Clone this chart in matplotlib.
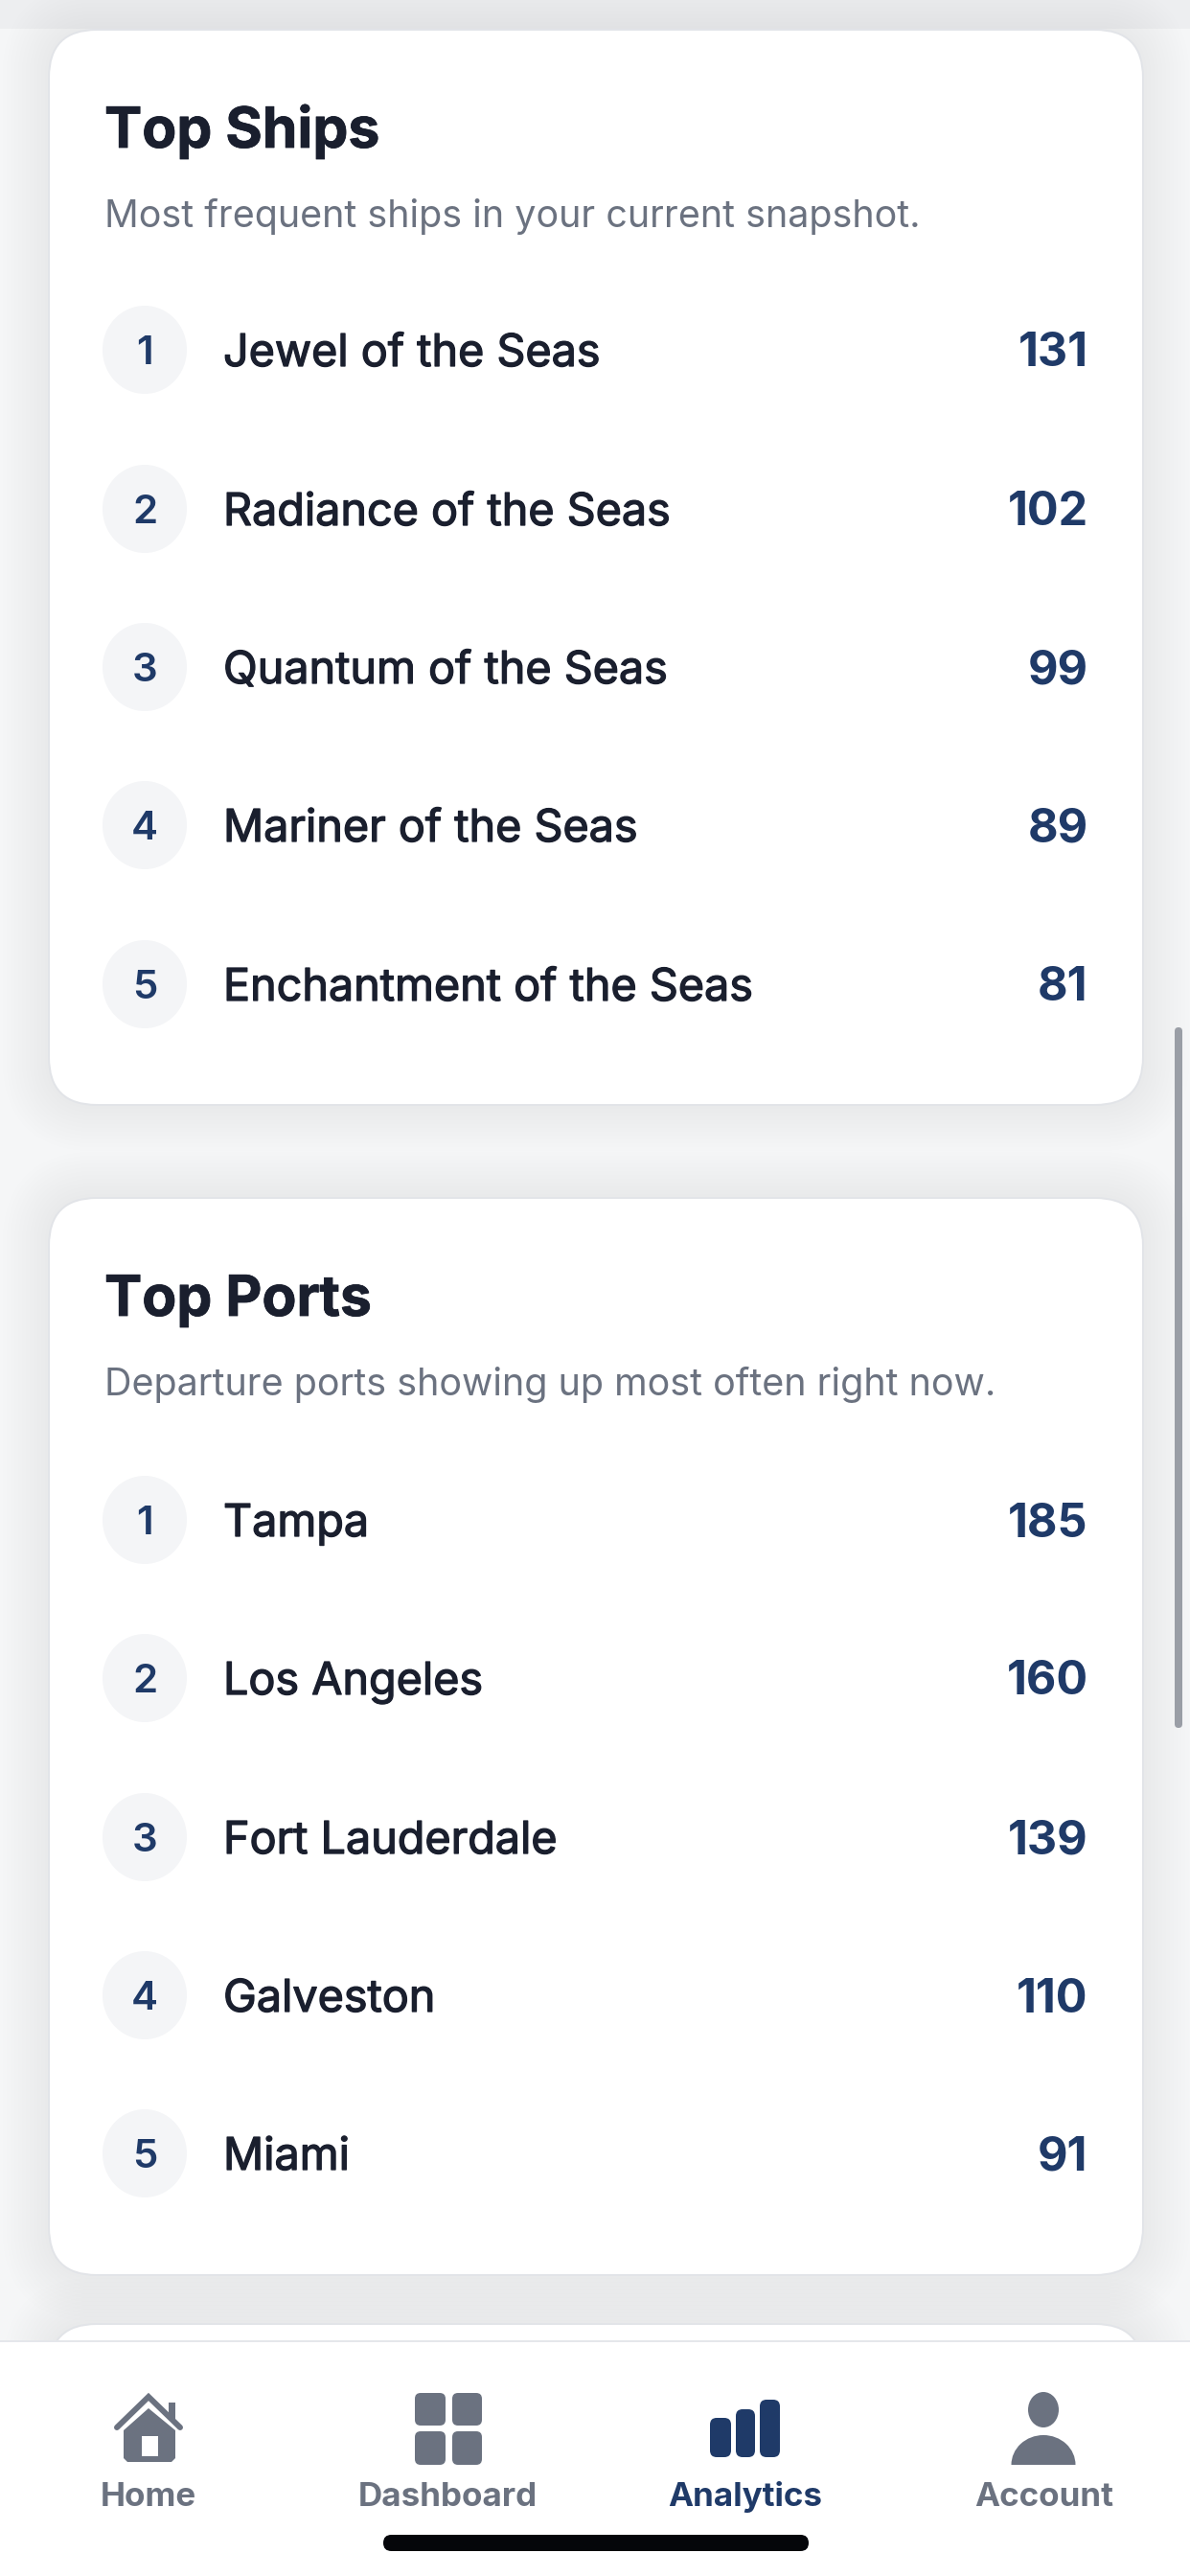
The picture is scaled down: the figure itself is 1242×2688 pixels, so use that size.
import matplotlib
matplotlib.use("Agg")
import matplotlib.pyplot as plt
import matplotlib.patheffects as pe
from matplotlib.patches import FancyBboxPatch, Ellipse, Rectangle, Polygon, Wedge
from matplotlib.transforms import Affine2D

plt.rcParams['font.family'] = ['Inter', 'DejaVu Sans']

ship_names = ["Jewel of the Seas", "Radiance of the Seas", "Quantum of the Seas",
              "Mariner of the Seas", "Enchantment of the Seas"]
ship_counts = [131, 102, 99, 89, 81]
port_names = ["Tampa", "Los Angeles", "Fort Lauderdale", "Galveston", "Miami"]
port_counts = [185, 160, 139, 110, 91]
nav_labels = ["Home", "Dashboard", "Analytics", "Account"]

W, H = 1242, 2688
DPI = 100
px = 72 / DPI
fig = plt.figure(figsize=(W / DPI, H / DPI), dpi=DPI, facecolor="#f5f6f7")
ax = fig.add_axes([0, 0, 1, 1])
ax.set_xlim(0, W)
ax.set_ylim(H, 0)
ax.axis("off")

INK = "#1a1f2e"
GREY = "#6b7280"
NAVY = "#1f3a68"


def rrect(x0, y0, x1, y1, r, **kw):
    p = FancyBboxPatch((x0 + r, y0 + r), x1 - x0 - 2 * r, y1 - y0 - 2 * r,
                       boxstyle=f"round,pad={r},rounding_size={r}", **kw)
    ax.add_patch(p)
    return p


def halo(x0, y0, x1, y1):
    for g in range(48, 0, -4):
        rrect(x0 - g, y0 - g, x1 + g, y1 + g, 50 + g,
              fc="#d4d7dc", ec="none", alpha=0.022, zorder=1)


def card(y0, y1, title, sub, names, counts, row_ys):
    x0, x1 = 51, 1193
    halo(x0, y0, x1, y1)
    rrect(x0, y0, x1, y1, 50, fc="white", ec="#e2e4e8", lw=2 * px, zorder=2)
    ax.text(109, y0 + 123, title, fontsize=58.8 * px, fontweight="bold", color=INK,
            va="baseline", ha="left", zorder=3,
            path_effects=[pe.withStroke(linewidth=0.8 * px, foreground=INK)])
    ax.text(109, y0 + 206, sub, fontsize=39.5 * px, color=GREY,
            va="baseline", ha="left", zorder=3)
    for i, (y, n, c) in enumerate(zip(row_ys, names, counts)):
        ax.add_patch(Ellipse((151, y), 88, 92, fc="#f4f5f7", ec="none", zorder=3))
        ax.text(151, y + 15, str(i + 1), fontsize=42 * px, fontweight="semibold",
                color=NAVY, ha="center", va="baseline", zorder=4)
        ax.text(233, y + 17, n, fontsize=46.7 * px, color=INK, ha="left", va="baseline", zorder=4,
                path_effects=[pe.withStroke(linewidth=1.3 * px, foreground=INK)])
        ax.text(1135.5, y + 17.5, str(c), fontsize=48.5 * px, fontweight="bold", color=NAVY,
                ha="right", va="baseline", zorder=4)


ax.add_patch(Rectangle((0, 0), W, 30, fc="#e6e8eb", ec="none", alpha=0.5, zorder=0))

card(31, 1153, "Top Ships", "Most frequent ships in your current snapshot.",
     ship_names, ship_counts, [365, 531, 696, 861, 1027])
card(1250, 2374, "Top Ports", "Departure ports showing up most often right now.",
     port_names, port_counts, [1586, 1751, 1917, 2082, 2247])

# next card, cut off by the tab bar
halo(51, 2425, 1193, 2700)
rrect(51, 2425, 1193, 2700, 50, fc="white", ec="#e2e4e8", lw=2 * px, zorder=2)

# scrollbar
rrect(1226, 1072, 1234, 1803, 4, fc="#9a9ea6", ec="none", zorder=5)

# tab bar
ax.add_patch(Rectangle((0, 2443), W, H - 2443, fc="white", ec="none", zorder=6))
ax.plot([0, W], [2443, 2443], color="#e5e7eb", lw=2 * px, zorder=7)

# home icon
ax.plot([122, 155, 188], [2533, 2501, 2533], color=GREY, lw=6 * px, zorder=7,
        solid_capstyle="round", solid_joinstyle="miter")
ax.add_patch(Rectangle((176, 2507), 7, 18, fc=GREY, ec="none", zorder=7))
ax.add_patch(Polygon([(129, 2536), (155, 2513), (183, 2536), (183, 2565), (179, 2569),
                      (133, 2569), (129, 2565)], fc=GREY, ec="none", zorder=7))
ax.add_patch(Rectangle((148, 2542), 17, 21, fc="white", ec="none", zorder=8))

# dashboard icon
for xa, xb in [(433, 465), (472, 503)]:
    for ya, yb in [(2497, 2531), (2537, 2572)]:
        rrect(xa, ya, xb, yb, 6, fc=GREY, ec="none", zorder=7)

# analytics icon
for (xa, xb), top in zip([(741, 763), (768, 788), (793, 814)], [2523, 2514, 2504]):
    rrect(xa, top, xb, 2564, 7, fc=NAVY, ec="none", zorder=7)

# account icon
ax.add_patch(Ellipse((1089, 2514.5), 32, 37, fc=GREY, ec="none", zorder=7))
body = Wedge((0, 0), 1, 180, 360, fc=GREY, ec="none", zorder=7)
body.set_transform(Affine2D().scale(33.5, 31).translate(1089, 2572) + ax.transData)
ax.add_patch(body)

for lab, x in zip(nav_labels, [155, 467, 778, 1090]):
    c = NAVY if lab == "Analytics" else GREY
    ax.text(x, 2615, lab, fontsize=35 * px, fontweight="bold", color=c,
            ha="center", va="baseline", zorder=8)

# home indicator
rrect(400, 2645, 844, 2662, 8.5, fc="#05060a", ec="none", zorder=8)

fig.savefig("out.png", dpi=DPI, facecolor=fig.get_facecolor())
